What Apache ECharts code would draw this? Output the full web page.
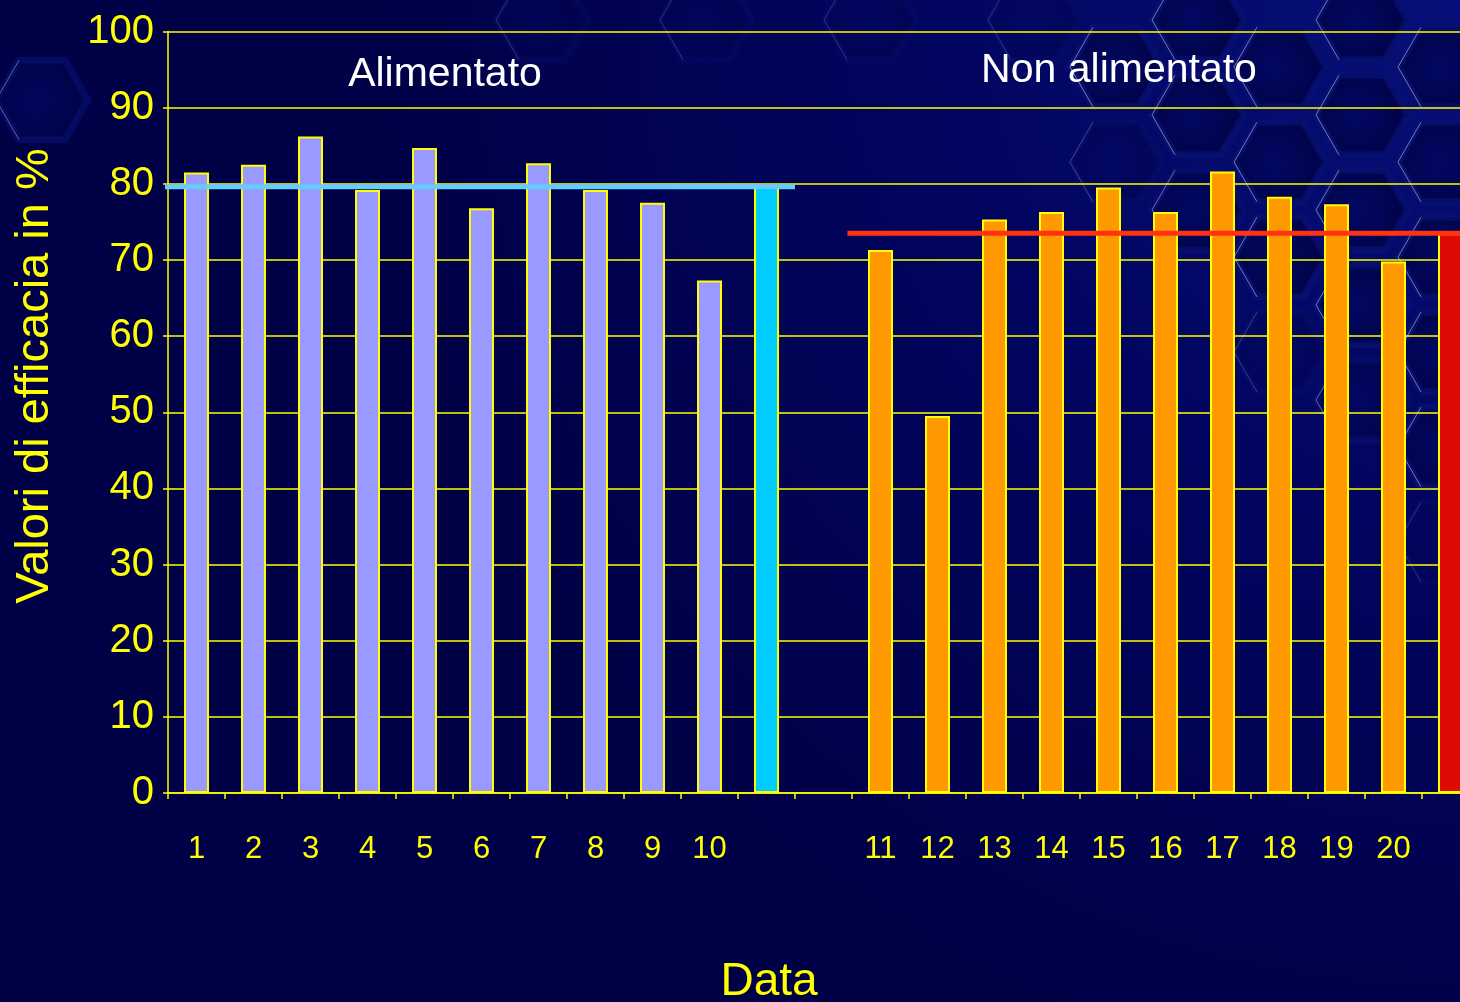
<!DOCTYPE html>
<html>
<head>
<meta charset="utf-8">
<script src="https://cdn.jsdelivr.net/npm/echarts@6/dist/echarts.min.js"></script>
<style>
  html, body { margin: 0; padding: 0; background: #000046; }
  #chart { width: 1460px; height: 1002px; }
</style>
</head>
<body>
<div id="chart"></div>
<script>
// Efficacy values per date, two groups, each followed by its group mean
const labelsAlimentato = ['1', '2', '3', '4', '5', '6', '7', '8', '9', '10'];
const valoriAlimentato = [81.5, 82.5, 86.2, 79.2, 84.7, 76.8, 82.7, 79.2, 77.5, 67.3];
const mediaAlimentato = 79.6;

const labelsNonAlimentato = ['11', '12', '13', '14', '15', '16', '17', '18', '19', '20'];
const valoriNonAlimentato = [71.3, 49.5, 75.3, 76.3, 79.5, 76.3, 81.6, 78.3, 77.3, 69.8];
const mediaNonAlimentato = 73.5;

const yTicks = { min: 0, max: 100, interval: 10 };

const FONT = '"Liberation Sans", Arial, Helvetica, sans-serif';
const YELLOW = '#ffff00';

// Category slots: group 1, its mean, an empty spacer, group 2, its mean
const categories = [...labelsAlimentato, '', '', ...labelsNonAlimentato, ''];

const barData = [];
valoriAlimentato.forEach(v => barData.push({ value: v, itemStyle: { color: '#9999ff' } }));
barData.push({ value: mediaAlimentato, itemStyle: { color: '#00ccff' } });
barData.push('-');
valoriNonAlimentato.forEach(v => barData.push({ value: v, itemStyle: { color: '#ff9900' } }));
barData.push({ value: mediaNonAlimentato, itemStyle: { color: '#dd0a05' } });

// Mean lines span their group's slots (including the mean bar), with a small lead-in
const lead = 0.08;
const startA = 0 - lead, endA = valoriAlimentato.length + 1;
const startN = valoriAlimentato.length + 2 - lead, endN = categories.length;

// Decorative honeycomb in the upper right
function hexPoints(cx, cy, r) {
  const pts = [];
  for (let k = 0; k < 6; k++) {
    const a = Math.PI / 3 * k;
    pts.push([cx + r * Math.cos(a), cy + r * Math.sin(a)]);
  }
  return pts;
}
const deco = [];
function addHex(cx, cy, op) {
  const r = 46;
  const pts = hexPoints(cx, cy, r);
  deco.push({
    type: 'polygon', z: -10, silent: true,
    shape: { points: pts },
    style: {
      fill: {
        type: 'radial', x: 0.45, y: 0.5, r: 0.65,
        colorStops: [{ offset: 0, color: 'rgba(2,8,100,' + op + ')' }, { offset: 1, color: 'rgba(0,2,66,' + op + ')' }]
      },
      stroke: 'rgba(8,16,112,' + (0.8 * op) + ')', lineWidth: 7
    }
  });
  // light rim on the left edges
  deco.push({
    type: 'polyline', z: -9, silent: true,
    shape: { points: [pts[2], pts[3], pts[4]] },
    style: { stroke: 'rgba(220,230,255,' + (0.5 * op) + ')', lineWidth: 1, fill: null }
  });
}
for (let col = -9; col <= 5; col++) {
  const cx = 1116 + col * 82;
  const offset = (Math.abs(col) % 2 === 1) ? -47 : 0;
  for (let row = -1; row <= 5; row++) {
    const cy = 162 + offset + row * 95;
    const limit = cx > 1040 ? 60 + (cx - 1000) * 1.1 : 30;
    if (cx < 380) continue;
    if (cy > limit) continue;
    const fade = Math.min(1, (limit - cy + 40) / 120);
    addHex(cx, cy, Math.max(0.35, fade));
  }
}
addHex(42, 100, 0.8);

const chart = echarts.init(document.getElementById('chart'), null, { renderer: 'canvas' });

chart.setOption({
  animation: false,
  backgroundColor: {
    type: 'radial', x: 1, y: 0, r: 1.1,
    colorStops: [
      { offset: 0, color: '#07107a' },
      { offset: 0.45, color: '#020560' },
      { offset: 1, color: '#000046' }
    ]
  },
  grid: {
    left: 168, right: -19, top: 31.5, bottom: 209,
    containLabel: false, outerBoundsMode: 'none'
  },
  xAxis: [
    {
      type: 'category',
      data: categories,
      boundaryGap: true,
      axisLine: { show: true, onZero: false, lineStyle: { color: YELLOW, width: 1.5 } },
      axisTick: { show: true, interval: 0, length: 6, lineStyle: { color: YELLOW, width: 1.5 } },
      axisLabel: { interval: 0, color: YELLOW, fontFamily: FONT, fontSize: 31, margin: 41 },
      splitLine: { show: false }
    },
    {
      type: 'value', min: 0, max: categories.length, show: false
    }
  ],
  yAxis: {
    type: 'value',
    min: yTicks.min, max: yTicks.max, interval: yTicks.interval,
    axisLine: { show: true, onZero: false, lineStyle: { color: YELLOW, width: 1.5 } },
    axisTick: { show: true, length: 5, lineStyle: { color: YELLOW, width: 1.5 } },
    axisLabel: { color: YELLOW, fontFamily: FONT, fontSize: 40, margin: 14 },
    splitLine: { show: true, lineStyle: { color: YELLOW, width: 1.5 } }
  },
  graphic: [
    ...deco,
    {
      type: 'text', z: 20,
      x: 35, y: 376, rotation: Math.PI / 2,
      style: {
        text: 'Valori di efficacia in %', fill: YELLOW,
        font: '47px ' + FONT, align: 'center', verticalAlign: 'middle'
      }
    },
    {
      type: 'text', z: 20, x: 769, y: 982,
      style: { text: 'Data', fill: YELLOW, font: '46px ' + FONT, align: 'center', verticalAlign: 'middle' }
    },
    {
      type: 'text', z: 20, x: 445, y: 75,
      style: { text: 'Alimentato', fill: '#ffffff', font: '41px ' + FONT, align: 'center', verticalAlign: 'middle' }
    },
    {
      type: 'text', z: 20, x: 1119, y: 71,
      style: { text: 'Non alimentato', fill: '#ffffff', font: '41px ' + FONT, align: 'center', verticalAlign: 'middle' }
    }
  ],
  series: [
    {
      type: 'bar',
      data: barData,
      barWidth: 25,
      itemStyle: { borderColor: YELLOW, borderWidth: 2 },
      silent: true
    },
    {
      type: 'line', xAxisIndex: 1, yAxisIndex: 0,
      data: [[startA, mediaAlimentato], [endA, mediaAlimentato]],
      symbol: 'none', silent: true, z: 5, clip: false,
      lineStyle: { color: '#66ccff', width: 5 }
    },
    {
      type: 'line', xAxisIndex: 1, yAxisIndex: 0,
      data: [[startN, mediaNonAlimentato], [endN, mediaNonAlimentato]],
      symbol: 'none', silent: true, z: 5, clip: false,
      lineStyle: { color: '#ff3311', width: 5 }
    }
  ]
});
</script>
</body>
</html>
